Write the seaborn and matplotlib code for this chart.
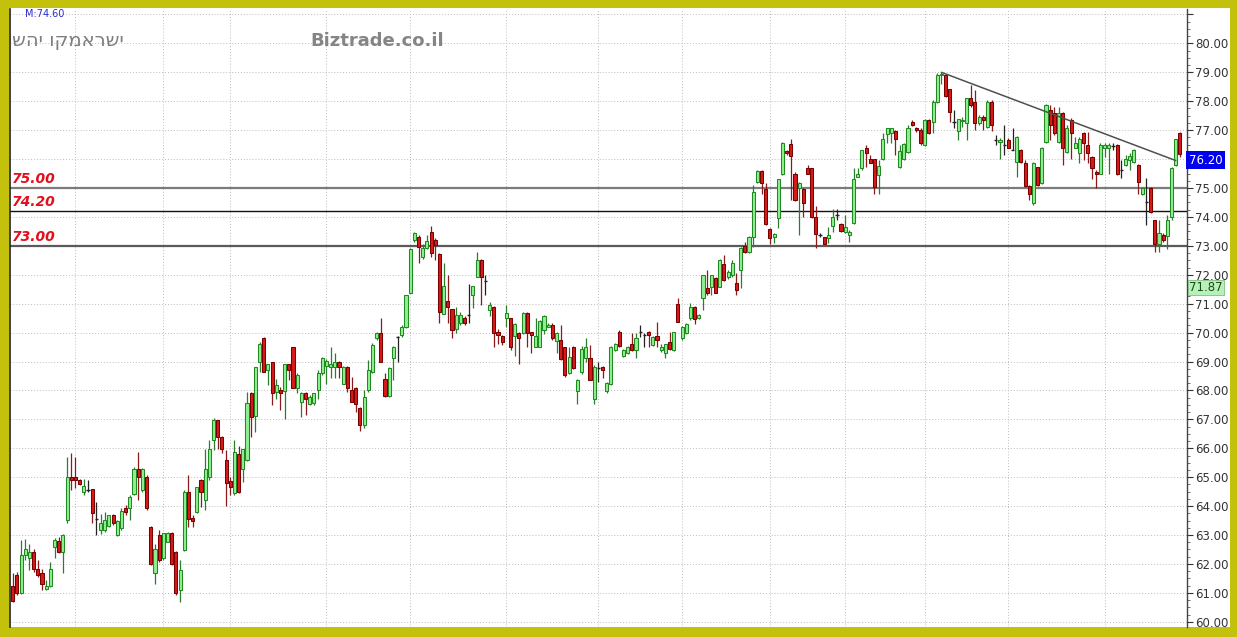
import numpy as np
import pandas as pd
import seaborn as sns
import matplotlib.pyplot as plt
import matplotlib.transforms as mtransforms
from matplotlib.patches import Rectangle
from matplotlib.ticker import MultipleLocator, FuncFormatter

# Daily candles (oldest first)
opens = [
    61.23, 61.61, 61.00, 62.30, 62.22, 62.42, 61.82, 61.70, 61.12, 61.23,
    62.59, 62.80, 62.42, 63.51, 65.01, 65.01, 64.90, 64.49, 64.55, 64.58,
    63.57, 63.17, 63.17, 63.30, 63.68, 62.99, 63.23, 63.92, 63.92, 64.43,
    65.30, 64.55, 65.01, 63.28, 61.69, 63.00, 62.20, 62.76, 63.07, 62.42,
    61.09, 62.47, 64.49, 63.60, 63.80, 64.90, 64.20,
    65.01, 66.28, 66.97, 66.40, 65.59, 64.88, 64.44, 65.79, 65.27, 65.59,
    67.90, 67.11, 68.99, 69.80, 68.70, 68.99, 67.95, 68.01, 67.98, 68.90,
    69.49, 68.09, 67.61, 67.90, 67.53, 67.55, 68.01, 68.59, 68.84, 68.82,
    68.82, 68.99, 68.24, 68.82, 68.01, 68.09, 67.38, 66.80, 68.01, 68.65,
    69.80, 69.99, 68.39, 67.80, 69.11, 69.86, 69.91, 70.20, 71.38, 73.20,
    73.29,
    72.62, 72.91, 73.49, 73.20, 72.71, 70.66, 71.10, 70.80, 70.11, 70.32,
    70.49, 70.60, 71.30, 71.93, 72.51, 71.79, 70.78, 70.89, 70.03, 69.88,
    70.49, 70.49, 69.88, 69.99, 69.97, 70.69, 70.03, 69.51, 69.51, 70.09,
    70.20, 70.28, 69.72, 69.76, 69.51, 68.59, 69.51, 67.99, 68.65, 69.11,
    69.11, 67.69, 68.79, 68.82, 67.99, 68.22, 69.39, 70.03, 69.20, 69.28,
    69.60, 69.39, 70.03, 69.91, 70.03, 69.57, 69.88, 69.39, 69.28, 69.68,
    69.39, 70.98, 69.80, 69.97, 70.49, 70.89, 70.49, 71.18, 71.53, 71.59,
    71.90, 71.59, 72.37, 71.91, 71.99, 71.70, 72.16, 72.99, 72.79, 73.29,
    75.22, 75.60, 74.96, 73.57, 73.32, 73.98, 75.50, 76.29, 76.52, 75.50,
    74.99, 74.96, 75.68, 75.68, 74.00, 73.36, 73.29, 73.26, 73.68, 74.06,
    73.77, 73.48, 73.37, 73.80, 75.39,
    75.68, 76.37, 75.99, 75.99, 75.45, 75.99, 76.87, 76.89, 76.98, 75.71,
    75.99, 76.26, 77.29, 77.06, 77.00, 76.48, 77.35, 77.29, 77.98, 78.90,
    78.90, 78.41, 77.29, 76.98, 77.30, 77.26, 78.10, 77.98, 77.26, 77.46,
    77.12, 77.98, 76.66, 76.58, 76.48, 76.66, 76.31, 75.91, 76.31, 75.87,
    75.07, 74.47, 75.71, 75.16, 76.60, 77.70, 77.58, 76.60, 77.58, 76.26,
    77.35, 76.40, 76.20, 76.89, 76.48, 76.08, 75.56, 75.50, 76.40, 76.40,
    76.46, 76.48, 75.62, 75.79, 75.96, 75.91, 75.79, 74.81, 74.52, 74.99,
    73.89, 73.08, 73.37, 73.34, 74.01, 75.79, 76.89,
]
highs = [
    61.69, 61.73, 62.82, 62.88, 62.70, 62.53, 62.13, 61.84, 61.44, 62.07,
    62.91, 62.94, 63.02, 65.70, 65.82, 65.70, 64.95, 64.95, 64.90, 64.60,
    64.15, 63.74, 63.80, 63.70, 63.74, 63.51, 63.92, 64.03, 64.38, 65.36,
    65.88, 65.32, 65.07, 63.30, 62.70, 63.17, 63.08, 63.11, 63.09, 62.45,
    62.13, 64.55, 65.07, 63.68, 64.67, 64.95, 65.99,
    66.28, 67.03, 66.99, 66.42, 65.94, 65.01, 66.28, 66.07, 65.99, 67.95,
    67.95, 68.80, 69.68, 69.86, 68.93, 69.00, 68.41, 68.13, 68.90, 68.93,
    69.51, 68.59, 67.95, 67.95, 67.84, 67.90, 68.70, 69.17, 69.07, 69.51,
    69.28, 69.03, 68.84, 68.84, 68.47, 68.13, 67.44, 68.01, 69.05, 69.63,
    70.03, 70.49, 68.59, 68.82, 69.53, 69.88, 70.26, 71.30, 72.91, 73.49,
    73.37,
    73.08, 73.37, 73.68, 73.26, 72.76, 72.39, 71.99, 70.80, 70.89, 70.72,
    70.57, 71.68, 71.61, 72.80, 72.53, 71.99, 71.06, 70.93, 70.14, 69.91,
    70.97, 70.52, 70.32, 70.03, 70.72, 70.72, 70.03, 70.52, 70.43, 70.61,
    70.32, 70.32, 70.03, 70.26, 69.51, 69.51, 69.53, 68.41, 69.53, 69.80,
    69.57, 68.88, 68.99, 68.84, 68.30, 69.53, 69.63, 70.09, 69.42, 69.53,
    69.97, 69.97, 70.26, 69.97, 70.06, 69.88, 70.37, 69.60, 69.62, 70.03,
    70.03, 71.18, 70.23, 70.34, 71.01, 70.91, 70.66, 71.99, 72.18, 71.99,
    71.93, 72.53, 72.68, 72.16, 72.51, 72.05, 72.97, 73.14, 73.34, 75.10,
    75.62, 75.62, 75.16, 73.60, 73.43, 75.30, 76.60, 76.31, 76.71, 75.56,
    75.22, 74.99, 75.79, 75.68, 74.37, 73.43, 73.31, 73.66, 74.26, 74.29,
    73.80, 74.06, 73.54, 75.68, 75.68,
    76.31, 76.48, 76.14, 76.02, 75.96, 76.89, 77.06, 77.06, 77.00, 76.48,
    76.54, 77.17, 77.35, 77.12, 77.06, 77.37, 77.37, 78.04, 78.96, 79.00,
    78.92, 78.44, 77.70, 77.37, 77.45, 78.10, 78.56, 78.38, 77.52, 77.52,
    78.04, 78.04, 76.83, 76.72, 77.18, 76.72, 77.06, 76.80, 76.34, 75.96,
    75.10, 75.91, 75.73, 76.43, 77.92, 77.87, 77.81, 77.81, 77.64, 77.17,
    77.41, 76.77, 76.77, 76.94, 76.94, 76.10, 75.62, 76.54, 76.54, 76.54,
    76.54, 76.52, 75.96, 76.14, 76.20, 76.34, 75.83, 75.04, 75.33, 75.04,
    73.91, 73.89, 73.43, 74.06, 75.71, 76.71, 76.94,
]
lows = [
    60.69, 60.92, 60.97, 62.13, 61.78, 61.73, 61.55, 61.11, 61.09, 61.20,
    62.19, 62.38, 61.69, 63.40, 64.55, 64.61, 64.72, 64.38, 64.49, 63.40,
    63.00, 63.05, 63.11, 63.28, 63.34, 62.98, 63.17, 63.68, 63.51, 64.38,
    64.20, 64.50, 63.88, 61.98, 61.32, 62.07, 62.13, 62.76, 61.96, 60.92,
    60.69, 62.45, 63.28, 63.28, 63.77, 63.97, 63.86,
    64.90, 65.94, 65.99, 65.82, 64.00, 64.38, 64.38, 64.46, 64.84, 65.57,
    66.40, 66.57, 68.65, 68.65, 68.18, 67.49, 67.72, 67.32, 67.00, 68.36,
    68.07, 67.90, 67.09, 67.15, 67.49, 67.49, 67.69, 68.53, 68.24, 68.42,
    68.42, 68.42, 68.24, 67.95, 67.61, 67.26, 66.61, 66.69, 67.95, 68.59,
    69.74, 68.99, 67.78, 67.78, 68.36, 68.99, 69.86, 70.17, 71.36, 73.14,
    72.39,
    72.56, 72.88, 72.62, 72.51, 70.32, 70.66, 70.32, 69.80, 69.97, 70.26,
    70.26, 70.32, 70.84, 71.93, 70.95, 71.30, 70.57, 69.49, 69.60, 69.57,
    70.20, 69.40, 69.19, 68.91, 69.95, 69.51, 69.30, 69.49, 69.49, 69.95,
    70.18, 69.76, 69.28, 69.05, 68.47, 68.57, 68.73, 67.53, 68.57, 68.99,
    68.36, 67.53, 68.30, 68.42, 67.90, 68.19, 69.37, 69.51, 69.17, 69.26,
    69.37, 69.11, 69.86, 69.51, 69.51, 69.53, 69.51, 69.34, 69.11, 69.40,
    69.37, 70.37, 69.74, 69.95, 70.43, 70.29, 70.46, 70.78, 71.30, 71.30,
    71.36, 71.56, 71.79, 71.87, 71.93, 71.30, 71.53, 72.76, 72.76, 72.97,
    75.18, 74.81, 73.72, 73.06, 73.11, 73.60, 75.45, 76.14, 74.58, 74.56,
    73.37, 74.00, 75.48, 73.98, 72.91, 73.31, 73.06, 73.11, 73.48, 73.89,
    73.48, 73.43, 73.14, 73.77, 75.37,
    75.62, 75.71, 75.85, 74.81, 74.81, 75.96, 76.56, 76.56, 76.14, 75.68,
    75.96, 76.22, 77.14, 76.94, 76.48, 76.45, 76.87, 76.89, 77.95, 78.60,
    78.15, 77.29, 77.06, 76.66, 77.10, 76.66, 77.81, 77.00, 77.18, 77.00,
    77.06, 76.98, 76.48, 75.99, 76.14, 76.37, 76.30, 75.39, 75.87, 75.04,
    74.58, 74.41, 75.06, 75.14, 76.56, 76.66, 76.83, 76.54, 75.79, 76.20,
    75.99, 76.37, 75.85, 75.96, 75.85, 75.30, 74.99, 75.48, 76.08, 75.50,
    76.31, 75.45, 75.33, 75.77, 75.62, 75.87, 74.81, 74.75, 73.72, 74.14,
    72.80, 72.80, 73.14, 72.88, 73.91, 75.76, 76.06,
]
closes = [
    60.72, 61.00, 62.30, 62.50, 62.42, 61.82, 61.61, 61.30, 61.23, 61.82,
    62.82, 62.42, 63.00, 65.01, 64.92, 64.92, 64.78, 64.69, 64.55, 63.77,
    63.57, 63.40, 63.51, 63.68, 63.42, 63.49, 63.84, 63.80, 64.30, 65.30,
    65.01, 65.30, 63.92, 62.00, 62.50, 62.13, 63.07, 63.07, 62.00, 60.98,
    61.78, 64.49, 63.57, 63.49, 64.66, 64.49, 65.30,
    65.99, 66.97, 66.40, 65.99, 64.79, 64.67, 65.88, 64.50, 65.99, 67.55,
    67.09, 68.80, 69.59, 68.65, 68.91, 67.90, 68.18, 67.90, 68.90, 68.70,
    68.10, 68.55, 67.90, 67.69, 67.78, 67.90, 68.59, 69.11, 69.01, 68.91,
    68.99, 68.82, 68.82, 68.10, 67.61, 67.52, 66.80, 67.78, 68.70, 69.57,
    69.99, 68.99, 67.80, 68.78, 69.49, 69.86, 70.20, 71.30, 72.90, 73.45,
    72.97,
    72.91, 73.18, 72.76, 73.03, 70.72, 71.61, 70.89, 70.09, 70.60, 70.60,
    70.32, 70.60, 71.61, 72.51, 71.93, 71.79, 70.97, 69.97, 69.91, 69.68,
    70.69, 69.51, 70.30, 69.80, 70.69, 69.99, 69.91, 69.88, 70.40, 70.57,
    70.28, 69.80, 69.99, 69.07, 68.55, 69.16, 68.76, 68.36, 69.42, 69.51,
    68.36, 68.82, 68.79, 68.70, 68.27, 69.51, 69.59, 69.53, 69.39, 69.51,
    69.39, 69.80, 70.03, 69.91, 69.91, 69.85, 69.76, 69.51, 69.60, 69.45,
    70.03, 70.37, 70.20, 70.30, 70.89, 70.46, 70.60, 71.99, 71.38, 71.99,
    71.38, 72.51, 71.82, 72.10, 72.39, 71.49, 72.91, 72.79, 73.31, 74.87,
    75.60, 75.18, 73.75, 73.26, 73.40, 75.30, 76.54, 76.20, 76.10, 74.58,
    75.19, 74.47, 75.50, 74.00, 73.40, 73.36, 73.08, 73.37, 74.00, 74.06,
    73.52, 73.66, 73.48, 75.30, 75.50,
    76.31, 76.20, 75.85, 75.04, 75.76, 76.71, 77.06, 77.06, 76.68, 76.29,
    76.52, 77.06, 77.17, 77.00, 76.54, 77.35, 76.89, 77.98, 78.90, 78.95,
    78.18, 77.64, 77.29, 77.37, 77.35, 78.10, 77.87, 77.26, 77.46, 77.35,
    77.98, 77.18, 76.66, 76.66, 76.48, 76.40, 76.31, 76.77, 75.90, 75.07,
    74.81, 75.87, 75.10, 76.40, 77.87, 77.18, 76.89, 77.58, 76.40, 77.06,
    76.89, 76.56, 76.71, 76.54, 76.20, 75.68, 75.50, 76.48, 76.48, 76.48,
    76.46, 75.50, 75.62, 75.99, 76.10, 76.31, 75.22, 74.99, 74.52, 74.18,
    73.08, 73.45, 73.20, 73.91, 75.68, 76.68, 76.17,
]

# candle index where each month starts (vertical grid)
month_starts = [15, 36, 52, 75, 95, 118, 140, 160, 181, 199, 218, 238, 261]

# horizontal support / resistance levels
levels = [75.00, 74.20, 73.00]
level_colors = ['#7c7c7c', '#111111', '#5a5a5a']
level_widths = [1.6, 1.0, 1.6]

# falling trend line (candle index, price)
trend_x = [222, 278]
trend_y = [79.00, 75.95]

last_price = "76.20"
other_price = "71.87"
title_he = "ישראמקו יהש"
site = "Biztrade.co.il"
m_label = "M:74.60"

sns.set_style("white")
plt.rcParams['font.family'] = ['DejaVu Sans']

df = pd.DataFrame({'open': opens, 'high': highs, 'low': lows, 'close': closes})
df['i'] = np.arange(len(df))
up = df.close > df.open
down = df.close < df.open
flat = ~(up | down)

W, H = 1237, 637
fig = plt.figure(figsize=(W / 100, H / 100), dpi=100, facecolor='#c4c10d')
fig.patches.append(Rectangle((9 / W, 10 / H), 1221 / W, 619 / H, transform=fig.transFigure,
                             fc='white', ec='none', zorder=-5))
ax = fig.add_axes([10 / W, 10 / H, 1177 / W, 618 / H])
ax.set_zorder(2)
ax.set_facecolor('white')
ax.set_xlim(-0.65, 280.7)
ax.set_ylim(59.82, 81.19)

# grid
for p in range(60, 82):
    ax.axhline(p, color='#bdbdbd', lw=0.7, ls=(0, (1, 2)), zorder=0.5)
for m in month_starts:
    ax.axvline(m, color='#bdbdbd', lw=0.7, ls=(0, (1, 2)), zorder=0.5)

# support levels
blend = mtransforms.blended_transform_factory(ax.transAxes, ax.transData)
for lv, c, w in zip(levels, level_colors, level_widths):
    ax.axhline(lv, color=c, lw=w, zorder=1.5)
    ax.text(0.002, lv + 0.07, f"{lv:.2f}", transform=blend, ha='left', va='bottom',
            color='#e0101c', fontsize=10, fontweight='bold', fontstyle='italic')

# wicks
wick_colors = np.where(up, '#2b7d2b', np.where(down, '#8b1a1a', '#222222'))
ax.vlines(df.i, df.low, df.high, colors=wick_colors, lw=0.9, zorder=2)

# bodies
ax.bar(df.i[up], (df.close - df.open)[up], bottom=df.open[up], width=0.74,
       color='#90ee90', edgecolor='#1f8a1f', lw=0.75, zorder=3)
ax.bar(df.i[down], (df.open - df.close)[down], bottom=df.close[down], width=0.74,
       color='#d61a1a', edgecolor='#7a0000', lw=0.75, zorder=3)
ax.hlines(df.close[flat], df.i[flat] - 0.4, df.i[flat] + 0.4, colors='#222222', lw=1, zorder=3)

# trend line
sns.lineplot(x=trend_x, y=trend_y, ax=ax, color='#505050', lw=1.1, zorder=4)

# right price axis: 60..80 labelled, 76.00 hidden under the last-price box as on the original
ax.yaxis.tick_right()
ax.yaxis.set_major_locator(MultipleLocator(1))
ax.yaxis.set_minor_locator(MultipleLocator(0.25))
ax.yaxis.set_major_formatter(FuncFormatter(
    lambda v, pos: '' if (abs(v - 76) < 0.01 or v > 80.5) else f"{v:.2f}"))
ax.tick_params(axis='y', which='major', direction='out', length=4, width=0.8, color='#333333',
               labelsize=8.5, labelcolor='#333333', pad=2)
ax.tick_params(axis='y', which='minor', direction='out', length=2, width=0.6, color='#555555')
ax.set_xticks([])
ax.set_xlabel('')
ax.set_ylabel('')
for s in ['top', 'bottom']:
    ax.spines[s].set_visible(False)
ax.spines['left'].set_color('#222222')
ax.spines['left'].set_linewidth(1.2)
ax.spines['right'].set_color('#444444')
ax.spines['right'].set_linewidth(1.0)

ax.text(1.0015, 75.96, last_price, transform=blend, ha='left', va='center', color='white',
        fontsize=8.5, bbox=dict(boxstyle='square,pad=0.2', fc='#0000ee', ec='none'), clip_on=False)
ax.text(1.0015, 71.55, other_price, transform=blend, ha='left', va='center', color='#224422',
        fontsize=8.5, bbox=dict(boxstyle='square,pad=0.1', fc='#b6f2b6', ec='#7fbf7f', lw=0.6),
        clip_on=False)

# header texts (Hebrew drawn right-to-left)
fig.text(25 / W, 1 - 14 / H, m_label, color='#2a2ad0', fontsize=7, ha='left', va='center')
fig.text(12 / W, 1 - 41 / H, title_he[::-1], color='#7e7e7e', fontsize=14, fontweight='normal',
         ha='left', va='center')
fig.text(310 / W, 1 - 41 / H, site, color='#858585', fontsize=13, fontweight='bold',
         ha='left', va='center')

fig.savefig('out.png', dpi=100, facecolor=fig.get_facecolor())
